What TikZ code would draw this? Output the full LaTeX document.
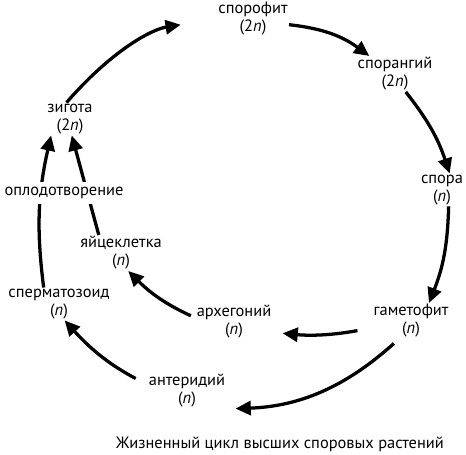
\documentclass[tikz,border=0pt]{standalone}
\usepackage{fontspec}
\setmainfont{PT Sans}
\usetikzlibrary{arrows.meta}

\tikzset{
  stage/.style={align=center, inner sep=1pt, font=\fontsize{14}{15.4}\selectfont},
  turn/.style={-{Triangle[length=13pt,width=12pt]}, line width=2.8pt},
}
\newcommand{\ploid}[1]{(#1{\itshape n})}

\begin{document}
\begin{tikzpicture}[x=0.03cm, y=0.03cm]
  \useasboundingbox (0,0) rectangle (466,455);
  % stages of the cycle
  \node[stage] (sporophyte) at (253,436) {спорофит\\\ploid{2}};
  \node[stage] (sporangium) at (395,381) {спорангий\\\ploid{2}};
  \node[stage] (spore) at (442,265) {спора\\\ploid{}};
  \node[stage] (gametophyte) at (411,134) {гаметофит\\\ploid{}};
  \node[stage] (archegonium) at (234,133) {архегоний\\\ploid{}};
  \node[stage] (antheridium) at (187,64) {антеридий\\\ploid{}};
  \node[stage] (sperm) at (59,151) {сперматозоид\\\ploid{}};
  \node[stage] (egg) at (121,202) {яйцеклетка\\\ploid{}};
  \node[stage] (zygote) at (70,336) {зигота\\\ploid{2}};

  % arrows
  \draw[turn, shorten >=1.1cm] (zygote.102) to[bend left=20] (sporophyte.west);
  \draw[turn] (sporophyte.351) to[bend left=15] (sporangium.145);
  \draw[turn] (sporangium.301) to[bend left=10] (spore.65);
  \draw[turn] (spore.292) to[bend left=10] (gametophyte.45);
  \draw[turn, shorten <=0.45cm, shorten >=0.3cm] (gametophyte.190) to[bend left=8] (archegonium.345);
  \draw[turn, shorten <=0.2cm, shorten >=0.3cm] (gametophyte.236) to[bend left=20] (antheridium.335);
  \draw[turn, shorten <=0.15cm] (archegonium.174) to[bend left=10] (egg.292);
  \draw[turn, shorten <=0.4cm] (antheridium.171) to[bend left=10] (sperm.289);
  \draw[turn] (sperm.133) to[bend left=10] (zygote.221);
  \draw[turn] (egg.141) to (zygote.276);

  % fertilisation label over the two arrows
  \node[stage, fill=white, inner sep=4pt] (fert) at (64,262) {оплодотворение};

  \node[stage] (caption) at (280,11) {Жизненный цикл высших споровых растений};
\end{tikzpicture}
\end{document}
